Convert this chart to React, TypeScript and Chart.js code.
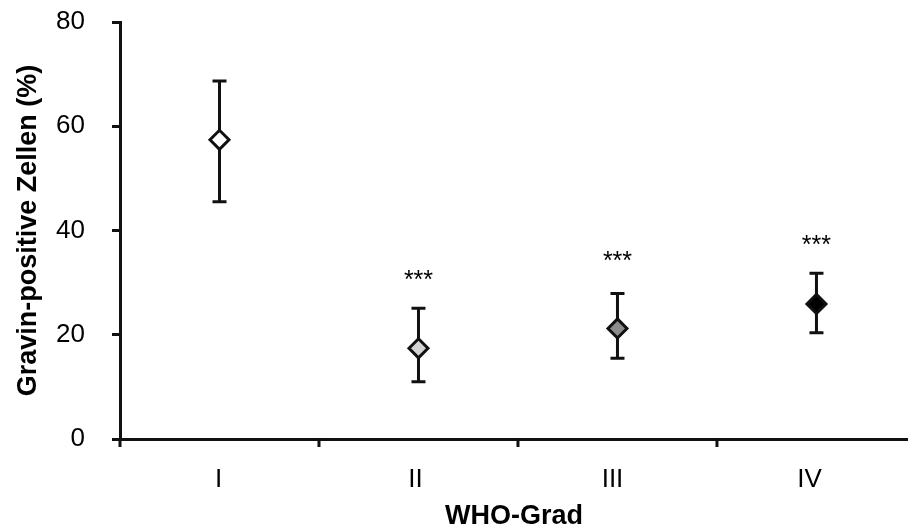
import { useEffect, useRef } from 'react';
import { Chart, registerables } from 'chart.js';

Chart.register(...registerables);

const categories = ['I', 'II', 'III', 'IV'];
const positions = [1, 2, 3, 4];
const categoryBounds = [0.5, 1.5, 2.5, 3.5];
const means = [57.4, 17.4, 21.2, 25.9];
const upperErr = [68.7, 25.1, 27.9, 31.8];
const lowerErr = [45.5, 11.0, 15.5, 20.4];
const markerColors = ['#ffffff', '#d3d3d3', '#8c8c8c', '#000000'];
const significance = ['', '***', '***', '***'];
const significanceY = [0, 31.1, 34.7, 37.7];
const yTicks = [0, 20, 40, 60, 80];

const FONT = '"Liberation Sans", Arial, Helvetica, sans-serif';
const INK = '#111111';

const errorBarPlugin = {
  id: 'errorBars',
  beforeDatasetsDraw(chart: any) {
    const { ctx, scales } = chart;
    const xs = scales.x2;
    const ys = scales.y;
    ctx.save();
    ctx.strokeStyle = INK;
    ctx.lineWidth = 3;
    positions.forEach((p, i) => {
      const x = xs.getPixelForValue(p);
      const yt = ys.getPixelForValue(upperErr[i]);
      const yb = ys.getPixelForValue(lowerErr[i]);
      ctx.beginPath();
      ctx.moveTo(x, yt);
      ctx.lineTo(x, yb);
      ctx.moveTo(x - 7, yt);
      ctx.lineTo(x + 7, yt);
      ctx.moveTo(x - 7, yb);
      ctx.lineTo(x + 7, yb);
      ctx.stroke();
    });
    // category boundary tick marks on the x axis
    const y0 = ys.getPixelForValue(0);
    categoryBounds.forEach((b) => {
      const x = xs.getPixelForValue(b);
      ctx.beginPath();
      ctx.moveTo(x, y0);
      ctx.lineTo(x, y0 + 8);
      ctx.stroke();
    });
    ctx.restore();
  },
  afterDatasetsDraw(chart: any) {
    const { ctx, scales } = chart;
    const xs = scales.x2;
    const ys = scales.y;
    ctx.save();
    ctx.fillStyle = '#000';
    ctx.font = `25px ${FONT}`;
    ctx.textAlign = 'center';
    ctx.textBaseline = 'alphabetic';
    positions.forEach((p, i) => {
      if (!significance[i]) return;
      ctx.fillText(significance[i], xs.getPixelForValue(p), ys.getPixelForValue(significanceY[i]) + 11);
    });
    ctx.restore();
  },
};

const zeroPad = (s: any) => {
  s.paddingLeft = 0;
  s.paddingRight = 0;
  s.paddingTop = 0;
  s.paddingBottom = 0;
};

export default function App() {
  const ref = useRef<HTMLCanvasElement | null>(null);

  useEffect(() => {
    let chart: Chart | null = null;
    let cancelled = false;

    const build = () => {
      if (cancelled || !ref.current) return;
      chart = new Chart(ref.current, {
        type: 'scatter',
        data: {
          datasets: [
            {
              data: positions.map((p, i) => ({ x: p, y: means[i] })),
              xAxisID: 'x2',
              yAxisID: 'y',
              showLine: false,
              pointStyle: 'rectRot',
              pointRadius: 9.5,
              pointHoverRadius: 9.5,
              pointBorderWidth: 3,
              pointBackgroundColor: markerColors,
              pointBorderColor: INK,
            },
          ],
        },
        options: {
          responsive: false,
          animation: false,
          devicePixelRatio: 1,
          layout: { autoPadding: false, padding: { top: 22, left: 0, right: 0, bottom: 0 } },
          plugins: { legend: { display: false }, tooltip: { enabled: false } },
          scales: {
            x: {
              type: 'category',
              labels: categories,
              offset: true,
              position: 'bottom',
              grid: { display: false, drawTicks: false },
              border: { display: true, width: 3, color: INK },
              ticks: {
                font: { family: FONT, size: 26 },
                color: '#000',
                padding: 25,
                maxRotation: 0,
                autoSkip: false,
              },
              title: {
                display: true,
                text: 'WHO-Grad',
                color: '#000',
                font: { family: FONT, size: 27, weight: 'bold', lineHeight: 0.8 },
                padding: { top: 0, bottom: 0 },
              },
              afterFit: (s: any) => {
                s.height = 88;
                zeroPad(s);
              },
            },
            x2: {
              type: 'linear',
              display: false,
              min: 0.5,
              max: 4.46,
              ticks: { display: false },
              afterFit: zeroPad,
            },
            y: {
              type: 'linear',
              position: 'left',
              min: 0,
              max: 80,
              afterBuildTicks: (s: any) => {
                s.ticks = yTicks.map((v) => ({ value: v }));
              },
              ticks: { font: { family: FONT, size: 26 }, color: '#000', padding: 27 },
              grid: { drawOnChartArea: false, drawTicks: true, tickLength: 8, lineWidth: 3, color: INK },
              border: { display: true, width: 3, color: INK },
              title: {
                display: true,
                text: 'Gravin-positive Zellen (%)',
                color: '#000',
                font: { family: FONT, size: 27, weight: 'bold', lineHeight: 1 },
                padding: { top: 15, bottom: 0 },
              },
              afterFit: (s: any) => {
                s.width = 120;
                zeroPad(s);
              },
            },
          },
        },
        plugins: [errorBarPlugin],
      } as any);
    };

    const fonts = (document as any).fonts;
    if (fonts && fonts.load) {
      Promise.all([
        fonts.load('26px "Liberation Sans"'),
        fonts.load('bold 27px "Liberation Sans"'),
      ])
        .catch(() => undefined)
        .then(build);
    } else {
      build();
    }

    return () => {
      cancelled = true;
      if (chart) chart.destroy();
    };
  }, []);

  return (
    <div style={{ position: 'fixed', left: 0, top: 0, width: 908, height: 527, background: '#fff' }}>
      <canvas ref={ref} width={908} height={527} style={{ display: 'block' }} />
    </div>
  );
}
